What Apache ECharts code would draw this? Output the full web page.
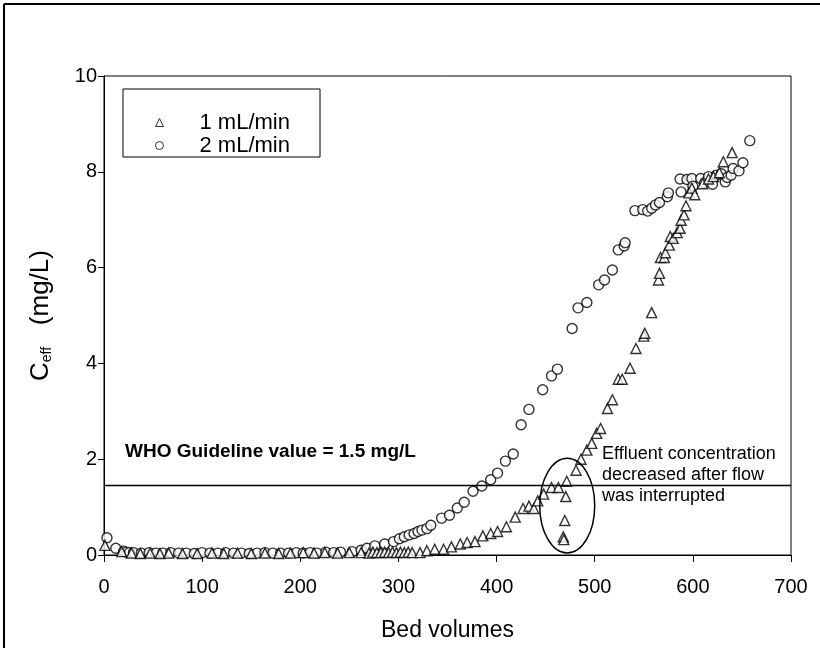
<!DOCTYPE html>
<html>
<head>
<meta charset="utf-8">
<script src="https://cdn.jsdelivr.net/npm/echarts@6/dist/echarts.min.js"></script>
<style>
  html, body { margin: 0; padding: 0; background: #fff; }
  #chart { width: 820px; height: 648px; }
</style>
</head>
<body>
<div id="chart"></div>
<script>
// 1 mL/min (triangles)
const bedVol1 = [
  1, 18, 28, 37, 47, 57, 66, 80, 95, 110,
  122, 136, 150, 164, 178, 190, 203, 214, 225, 238,
  250, 262, 270, 274, 278, 282, 286, 290, 294, 298,
  302, 306, 310, 314, 322, 329, 337, 346, 354, 363,
  370, 378, 386, 394, 401, 410, 419, 427, 433, 438,
  442, 448, 456, 463, 468, 468.5, 469.5, 470.5, 471.5, 481,
  486, 492, 497, 502, 506, 513, 518, 524, 528, 536,
  542, 550, 551, 558, 565, 566, 567, 571, 572, 576,
  577, 580, 584, 587, 588, 591, 593, 596, 599, 602,
  610, 616, 621, 627, 631, 640
];
const conc1 = [
  0.20, 0.07, 0.04, 0.03, 0.04, 0.03, 0.04, 0.03, 0.03, 0.04,
  0.03, 0.04, 0.03, 0.04, 0.03, 0.04, 0.05, 0.04, 0.05, 0.04,
  0.05, 0.05, 0.04, 0.06, 0.05, 0.05, 0.06, 0.05, 0.06, 0.05,
  0.06, 0.05, 0.06, 0.05, 0.05, 0.09, 0.12, 0.12, 0.17, 0.23,
  0.26, 0.28, 0.40, 0.45, 0.49, 0.59, 0.79, 0.97, 1.02, 0.97,
  1.13, 1.27, 1.41, 1.41, 0.38, 0.32, 0.72, 1.22, 1.54, 1.77,
  2.00, 2.19, 2.33, 2.54, 2.64, 3.06, 3.24, 3.67, 3.67, 3.90,
  4.31, 4.57, 4.63, 5.06, 5.74, 5.88, 6.21, 6.21, 6.31, 6.47,
  6.65, 6.61, 6.73, 6.82, 6.99, 7.10, 7.29, 7.56, 7.66, 7.52,
  7.75, 7.85, 7.90, 7.98, 8.21, 8.40
];

// 2 mL/min (circles)
const bedVol2 = [
  3, 12, 20, 23, 26, 30, 38, 46, 53, 60,
  68, 76, 84, 92, 100, 108, 116, 124, 132, 140,
  148, 156, 164, 172, 180, 188, 196, 203, 210, 217,
  226, 234, 241, 253, 262, 268, 276, 286, 295, 301,
  306, 311, 316, 320, 324, 329, 333, 344, 352, 360,
  367, 376, 385, 394, 401, 409, 417, 425, 433, 447,
  456, 462, 477, 483, 492, 504, 510, 518, 524, 530,
  531, 541, 549, 554, 558, 562, 566, 574, 575, 587,
  588, 594, 599, 600, 608, 612, 616, 620, 624, 629,
  633, 635, 639, 641, 647, 651, 658
];
const conc2 = [
  0.36, 0.14, 0.08, 0.06, 0.05, 0.05, 0.04, 0.05, 0.04, 0.04,
  0.05, 0.04, 0.04, 0.03, 0.05, 0.04, 0.04, 0.05, 0.04, 0.04,
  0.03, 0.04, 0.05, 0.04, 0.04, 0.04, 0.05, 0.04, 0.05, 0.04,
  0.06, 0.05, 0.06, 0.07, 0.10, 0.14, 0.19, 0.23, 0.28, 0.34,
  0.38, 0.42, 0.45, 0.49, 0.52, 0.55, 0.62, 0.77, 0.83, 0.98,
  1.10, 1.33, 1.44, 1.57, 1.71, 1.96, 2.11, 2.72, 3.04, 3.45,
  3.74, 3.88, 4.73, 5.16, 5.27, 5.64, 5.74, 5.95, 6.37, 6.45,
  6.52, 7.19, 7.21, 7.18, 7.24, 7.31, 7.36, 7.48, 7.56, 7.85,
  7.58, 7.84, 7.86, 7.70, 7.86, 7.77, 7.90, 7.74, 7.93, 7.96,
  7.79, 7.88, 7.93, 8.07, 8.02, 8.19, 8.65
];

const seriesNames = ["1 mL/min", "2 mL/min"];
const whoLimit = 1.45;
const whoText = "WHO Guideline value = 1.5 mg/L";
const noteLines = ["Effluent concentration", "decreased after flow", "was interrupted"];
// ellipse around the interrupted-flow points: centre and radii in data units
const ringCentre = [472, 1.03];
const ringRadius = [28, 0.99];

const FONT = "Liberation Sans, Arial, sans-serif";

const toPairs = (xs, ys) => xs.map((x, i) => [x, ys[i]]);

const chart = echarts.init(document.getElementById("chart"), null, { renderer: "canvas" });

const hollow = { color: "#fff", borderColor: "#000", borderWidth: 1.4 };

chart.setOption({
  animation: false,
  backgroundColor: "#fff",
  textStyle: { fontFamily: FONT, color: "#000" },
  grid: {
    left: 104, right: 29, top: 76, bottom: 93,
    show: true, borderColor: "#000", borderWidth: 1, backgroundColor: "transparent"
  },
  legend: {
    orient: "vertical",
    left: 150, top: 106,
    itemWidth: 8, itemHeight: 8, itemGap: 0,
    data: seriesNames,
    textStyle: { fontSize: 22, color: "#000", lineHeight: 23, padding: [0, 0, 0, 31] },
    itemStyle: { color: "#fff", borderColor: "#000", borderWidth: 1 }
  },
  xAxis: {
    type: "value", min: 0, max: 700, interval: 100,
    name: "Bed volumes", nameLocation: "middle", nameGap: 64,
    nameTextStyle: { fontSize: 23, color: "#000" },
    axisLine: { onZero: false, lineStyle: { color: "#000", width: 1 } },
    axisTick: { length: 7, lineStyle: { color: "#000" } },
    axisLabel: { fontSize: 20, color: "#000", margin: 22 },
    splitLine: { show: false }
  },
  yAxis: {
    type: "value", min: 0, max: 10, interval: 2,
    name: "{c|C}{s|eff}{c|   (mg/L)}", nameLocation: "middle", nameGap: 50, nameRotate: 90,
    nameTextStyle: {
      rich: {
        c: { fontSize: 26, color: "#000", fontFamily: FONT },
        s: { fontSize: 14, color: "#000", fontFamily: FONT, verticalAlign: "bottom", padding: [12, 0, 0, 0] }
      }
    },
    axisLine: { onZero: false, lineStyle: { color: "#000", width: 1 } },
    axisTick: { length: 6, lineStyle: { color: "#000" } },
    axisLabel: { fontSize: 20, color: "#000", margin: 7 },
    splitLine: { show: false }
  },
  series: [
    {
      name: seriesNames[0], type: "scatter", symbol: "triangle", symbolSize: 10,
      itemStyle: hollow, z: 3,
      data: toPairs(bedVol1, conc1),
      markLine: {
        silent: true, symbol: "none", label: { show: false },
        lineStyle: { color: "#000", width: 1.3, type: "solid" },
        data: [{ yAxis: whoLimit }]
      }
    },
    {
      name: seriesNames[1], type: "scatter", symbol: "circle", symbolSize: 10,
      itemStyle: hollow, z: 2,
      data: toPairs(bedVol2, conc2)
    }
  ]
});

function px(pt) { return chart.convertToPixel({ gridIndex: 0 }, pt); }

const c = px(ringCentre);
const edge = px([ringCentre[0] + ringRadius[0], ringCentre[1] + ringRadius[1]]);

chart.setOption({
  graphic: [
    // outer frame (top + left edges)
    { type: "line", shape: { x1: 4, y1: 4, x2: 820, y2: 4 }, style: { stroke: "#000", lineWidth: 2 } },
    { type: "line", shape: { x1: 4, y1: 4, x2: 4, y2: 648 }, style: { stroke: "#000", lineWidth: 2 } },
    // legend box
    { type: "rect", shape: { x: 123, y: 89, width: 197, height: 68 }, style: { fill: "none", stroke: "#000", lineWidth: 1 }, z: 10 },
    {
      type: "text", left: 125, top: 442, z: 10,
      style: { text: whoText, font: "bold 19px " + FONT, fill: "#000" }
    },
    {
      type: "text", left: 602, top: 444, z: 10,
      style: { text: noteLines.join("\n"), font: "18px " + FONT, lineHeight: 21, fill: "#000" }
    },
    {
      type: "ellipse", z: 10,
      shape: { cx: c[0], cy: c[1], rx: edge[0] - c[0], ry: c[1] - edge[1] },
      style: { fill: "none", stroke: "#000", lineWidth: 1.5 }
    }
  ]
});
</script>
</body>
</html>
